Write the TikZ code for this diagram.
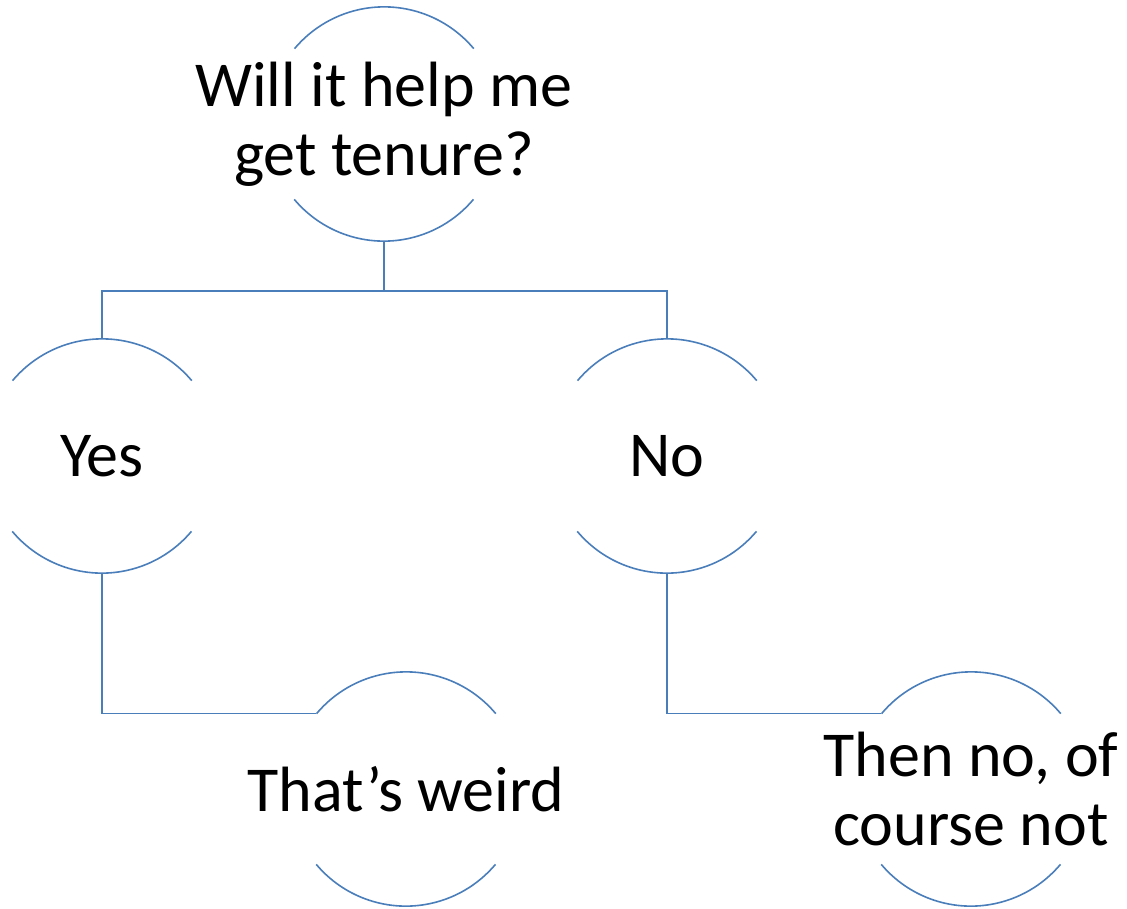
\documentclass[tikz,border=0pt]{standalone}
\usepackage{fontspec}
\setmainfont{Carlito}
\begin{document}
\begin{tikzpicture}[x=1pt,y=1pt,
  arcline/.style={draw=lineblue,line width=1.6pt},
  conn/.style={draw=lineblue,line width=1.6pt},
  bubtext/.style={inner sep=0pt,align=center,font=\fontsize{64}{69}\selectfont},
  bub/.style={circle,minimum size=234pt,inner sep=0pt,
    label={[bubtext]center:#1}}]
\definecolor{lineblue}{HTML}{4A7EBB}
\useasboundingbox (0,0) rectangle (1127,-908);
\node[bub={Will it help me\\get tenure?}] (top) at (384,-124) {};
\node[bub={Yes}] (yes) at (102,-456) {};
\node[bub={No}] (no) at (667,-456) {};
\node[bub={That’s weird}] (weird) at (406,-789) {};
\node[bub={Then no, of\\course not}] (then) at (971,-789) {};
\foreach \n in {top,yes,no,weird,then}{
  \draw[arcline] (\n.40) arc[start angle=40,end angle=140,radius=117];
  \draw[arcline] (\n.-140) arc[start angle=-140,end angle=-40,radius=117];
}
\coordinate (split) at ([yshift=-50]top.south);
\draw[conn] (top.south) -- (split) -| (yes.north);
\draw[conn] (split) -| (no.north);
\draw[conn] (yes.south) |- (weird.140);
\draw[conn] (no.south) |- (then.140);
\end{tikzpicture}
\end{document}
